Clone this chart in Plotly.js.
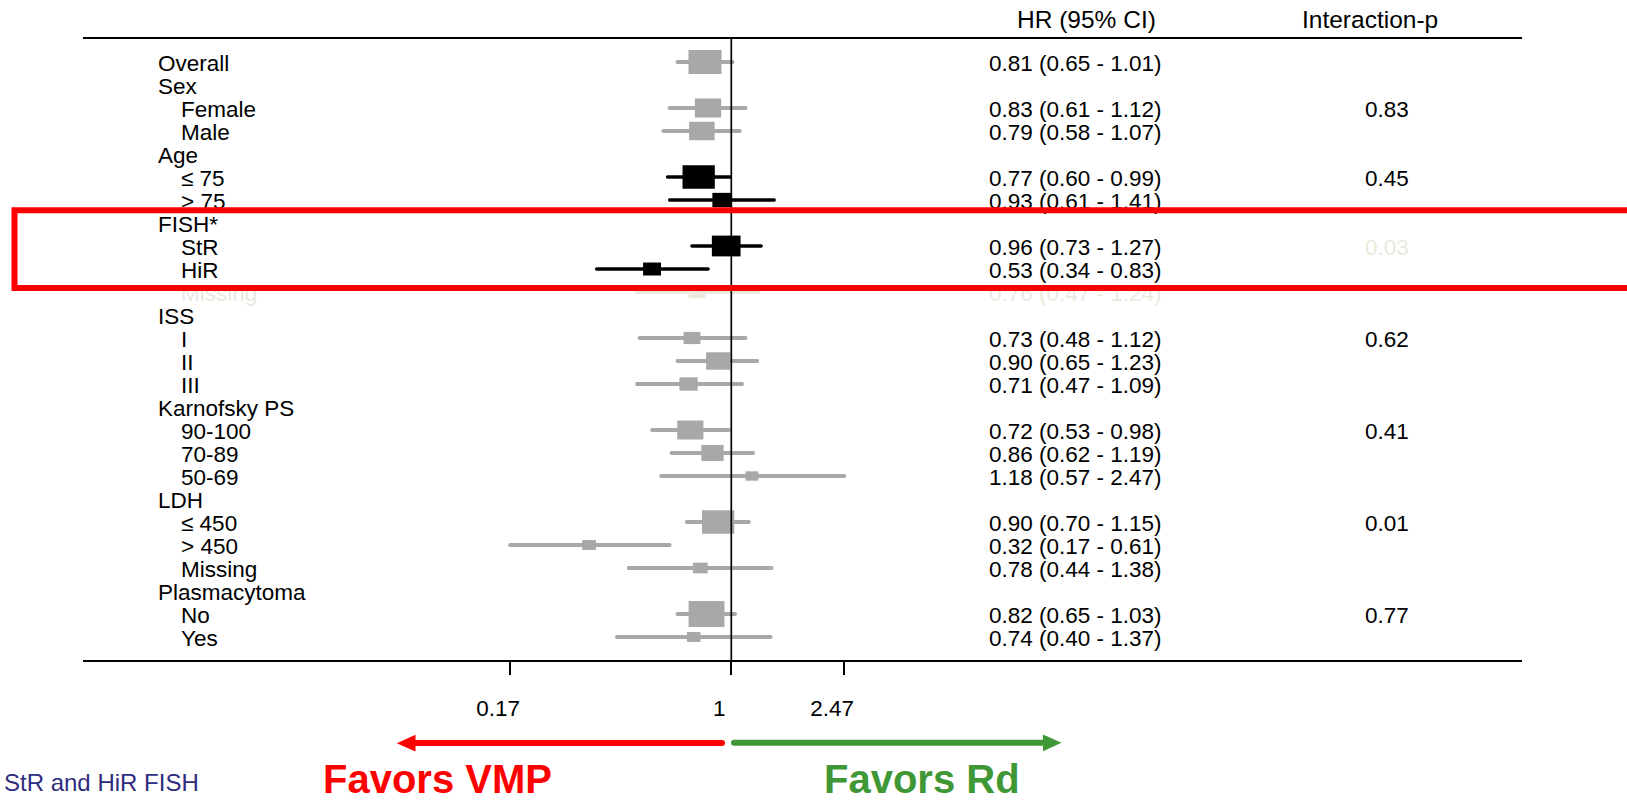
<!DOCTYPE html>
<html>
<head>
<meta charset="utf-8">
<script src="https://cdn.plot.ly/plotly-3.0.1.min.js"></script>
<style>
  html, body { margin: 0; padding: 0; background: #ffffff; }
  #chart { width: 1627px; height: 803px; }
  .js-line, .shapelayer path { stroke-linecap: round; }
</style>
</head>
<body>
<div id="chart"></div>
<script>
// ---------------- DATA ----------------
const rowLabels = ["Overall","Sex","Female","Male","Age","≤ 75","> 75","FISH*","StR","HiR","Missing",
  "ISS","I","II","III","Karnofsky PS","90-100","70-89","50-69","LDH","≤ 450","> 450","Missing",
  "Plasmacytoma","No","Yes"];
const rowLevel = [0,0,1,1,0,1,1,0,1,1,1,0,1,1,1,0,1,1,1,0,1,1,1,0,1,1];
const hr     = [0.81,null,0.83,0.79,null,0.77,0.93,null,0.96,0.53,0.76,null,0.73,0.90,0.71,null,0.72,0.86,1.18,null,0.90,0.32,0.78,null,0.82,0.74];
const ciLow  = [0.65,null,0.61,0.58,null,0.60,0.61,null,0.73,0.34,0.47,null,0.48,0.65,0.47,null,0.53,0.62,0.57,null,0.70,0.17,0.44,null,0.65,0.40];
const ciHigh = [1.01,null,1.12,1.07,null,0.99,1.41,null,1.27,0.83,1.24,null,1.12,1.23,1.09,null,0.98,1.19,2.47,null,1.15,0.61,1.38,null,1.03,1.37];
const pInteraction = [null,null,"0.83",null,null,"0.45",null,null,"0.03",null,null,null,"0.62",null,null,null,"0.41",null,null,null,"0.01",null,null,null,"0.77",null];
// relative subgroup weight (largest = 100)
const weights = [92,null,73,71,null,90,55,null,80,50,46,null,47,67,51,null,73,62,36,null,90,38,41,null,100,38];
// emphasis group of each row (marks and texts): base / bold / faded
const emphasis = ["base","base","base","base","base","bold","bold","base","bold","bold","faded",
  "base","base","base","base","base","base","base","base","base","base","base","base","base","base","base"];
// emphasis of the interaction-p column
const pEmphasis = ["base","base","base","base","base","base","base","base","faded","base","base",
  "base","base","base","base","base","base","base","base","base","base","base","base","base","base","base"];
const tickValues = [0.17, 1, 2.47];
const tickLabels = ["0.17", "1", "2.47"];
const headerHR = "HR (95% CI)";
const headerP = "Interaction-p";
const footnote = "StR and HiR FISH";
const favorLeft = "Favors VMP";
const favorRight = "Favors Rd";

// ---------------- STYLE / GEOMETRY ----------------
const W = 1627, H = 803;
const M = {l: 83, r: 105, t: 39, b: 143};
const plotW = W - M.l - M.r, plotH = H - M.t - M.b;
const XR = [-2.2557, 2.7512];          // log10 range
const YR = [26, -1];                   // reversed row range
const pxPerLn = plotW / ((XR[1] - XR[0]) * Math.LN10);
const rowPx = plotH / Math.abs(YR[0] - YR[1]);
const TEXT_DY = 3 / rowPx;             // small downward nudge of row texts
const BOX_MAX_H = 26, BOX_ASPECT = 1.38;
const colorMark = {base: "#a8a8a8", bold: "#000000", faded: "#ece9df"};
const colorText = {base: "#000000", bold: "#000000", faded: "#ece9df"};
const FONT = "Liberation Sans, Arial, Helvetica, sans-serif";
const px2paperX = p => (p - M.l) / plotW;
const px2paperY = p => (M.t + plotH - p) / plotH;

// ---------------- TRACES ----------------
const traces = [];
// boxes (bars with base on the log axis)
const bx = [], bbase = [], by = [], bw = [], bc = [];
hr.forEach((v, i) => {
  if (v == null) return;
  const hpx = weights[i] / 100 * BOX_MAX_H;
  const half = hpx * BOX_ASPECT / 2 / pxPerLn;
  const x0 = v * Math.exp(-half), x1 = v * Math.exp(half);
  bbase.push(x0); bx.push(x1 - x0); by.push(i); bw.push(hpx / rowPx); bc.push(colorMark[emphasis[i]]);
});
traces.push({type: "bar", orientation: "h", x: bx, base: bbase, y: by, width: bw,
  marker: {color: bc, line: {width: 0}}, hoverinfo: "skip", showlegend: false});

// CI lines grouped by emphasis
["base","bold","faded"].forEach(g => {
  const xs = [], ys = [];
  hr.forEach((v, i) => {
    if (v == null || emphasis[i] !== g) return;
    xs.push(ciLow[i], ciHigh[i], null); ys.push(i, i, null);
  });
  traces.push({type: "scatter", mode: "lines", x: xs, y: ys,
    line: {color: colorMark[g], width: g === "bold" ? 3.5 : 4},
    hoverinfo: "skip", showlegend: false, connectgaps: false});
});

// row labels
traces.push({type: "scatter", mode: "text", xaxis: "x2", yaxis: "y",
  x: rowLevel.map(l => l ? 181 : 158), y: rowLabels.map((_, i) => i + TEXT_DY),
  text: rowLabels, textposition: "middle right",
  textfont: {family: FONT, size: 22.5, color: rowLabels.map((_, i) => colorText[emphasis[i]])},
  cliponaxis: false, hoverinfo: "skip", showlegend: false});

// HR (95% CI) text
const hrIdx = hr.map((v, i) => v == null ? -1 : i).filter(i => i >= 0);
traces.push({type: "scatter", mode: "text", xaxis: "x2", yaxis: "y",
  x: hrIdx.map(() => 989), y: hrIdx.map(i => i + TEXT_DY),
  text: hrIdx.map(i => hr[i].toFixed(2) + " (" + ciLow[i].toFixed(2) + " - " + ciHigh[i].toFixed(2) + ")"),
  textposition: "middle right",
  textfont: {family: FONT, size: 22.5, color: hrIdx.map(i => colorText[emphasis[i]])},
  cliponaxis: false, hoverinfo: "skip", showlegend: false});

// interaction p
const pIdx = pInteraction.map((v, i) => v == null ? -1 : i).filter(i => i >= 0);
traces.push({type: "scatter", mode: "text", xaxis: "x2", yaxis: "y",
  x: pIdx.map(() => 1387), y: pIdx.map(i => i + TEXT_DY), text: pIdx.map(i => pInteraction[i]),
  textposition: "middle center",
  textfont: {family: FONT, size: 22.5, color: pIdx.map(i => colorText[pEmphasis[i]])},
  cliponaxis: false, hoverinfo: "skip", showlegend: false});

// ---------------- LAYOUT ----------------
const shapes = [
  // reference line at HR = 1
  {type: "line", xref: "x", yref: "paper", x0: 1, x1: 1, y0: 0, y1: 1,
   line: {color: "#000", width: 1.7}, layer: "above"},
  // red highlight box
  {type: "rect", xref: "paper", yref: "paper",
   x0: px2paperX(14.5), x1: px2paperX(1700), y0: px2paperY(288), y1: px2paperY(210.3),
   line: {color: "#ff0000", width: 6}, fillcolor: "rgba(0,0,0,0)", layer: "above"},
  // red arrow
  {type: "line", xref: "paper", yref: "paper", x0: px2paperX(722), x1: px2paperX(412),
   y0: px2paperY(743), y1: px2paperY(743), line: {color: "#ff0000", width: 6}, layer: "above"},
  {type: "path", xref: "paper", yref: "paper",
   path: `M ${px2paperX(396.7)},${px2paperY(743.2)} L ${px2paperX(415.5)},${px2paperY(734.8)} L ${px2paperX(415.5)},${px2paperY(751.6)} Z`,
   fillcolor: "#ff0000", line: {color: "#ff0000", width: 0}, layer: "above"},
  // green arrow
  {type: "line", xref: "paper", yref: "paper", x0: px2paperX(734), x1: px2paperX(1046),
   y0: px2paperY(742.8), y1: px2paperY(742.8), line: {color: "#3f9736", width: 6}, layer: "above"},
  {type: "path", xref: "paper", yref: "paper",
   path: `M ${px2paperX(1061.5)},${px2paperY(742.8)} L ${px2paperX(1043)},${px2paperY(734.4)} L ${px2paperX(1043)},${px2paperY(751.2)} Z`,
   fillcolor: "#3f9736", line: {color: "#3f9736", width: 0}, layer: "above"}
];

const annotations = [
  {text: headerHR, xref: "paper", yref: "paper", x: px2paperX(1086.7), y: px2paperY(19),
   xanchor: "center", yanchor: "middle", showarrow: false, font: {family: FONT, size: 24.5, color: "#000"}},
  {text: headerP, xref: "paper", yref: "paper", x: px2paperX(1370), y: px2paperY(19),
   xanchor: "center", yanchor: "middle", showarrow: false, font: {family: FONT, size: 24.5, color: "#000"}},
  {text: footnote, xref: "paper", yref: "paper", x: px2paperX(2), y: px2paperY(782),
   xanchor: "left", yanchor: "middle", showarrow: false, font: {family: FONT, size: 24, color: "#2e2c7e"}},
  {text: "<b>" + favorLeft + "</b>", xref: "paper", yref: "paper", x: px2paperX(321), y: px2paperY(779),
   xanchor: "left", yanchor: "middle", showarrow: false, font: {family: FONT, size: 40, color: "#ff0000"}},
  {text: "<b>" + favorRight + "</b>", xref: "paper", yref: "paper", x: px2paperX(822), y: px2paperY(779),
   xanchor: "left", yanchor: "middle", showarrow: false, font: {family: FONT, size: 40, color: "#3f9736"}}
];

const layout = {
  width: W, height: H,
  margin: M,
  paper_bgcolor: "#ffffff", plot_bgcolor: "#ffffff",
  showlegend: false, hovermode: false, barmode: "overlay",
  font: {family: FONT, color: "#000"},
  xaxis: {type: "log", range: XR, showgrid: false, zeroline: false,
    showline: true, mirror: true, linecolor: "#000", linewidth: 2,
    tickmode: "array", tickvals: tickValues, ticktext: tickLabels,
    ticks: "outside", ticklen: 13, tickwidth: 1.7, tickcolor: "#000",
    ticklabelstandoff: 14, ticklabelshift: -12,
    tickfont: {family: FONT, size: 22.5, color: "#000"}, automargin: false, fixedrange: true},
  xaxis2: {overlaying: "x", range: [M.l, W - M.r], visible: false, anchor: "y", fixedrange: true},
  yaxis: {range: YR, visible: false, showgrid: false, zeroline: false, fixedrange: true},
  shapes: shapes,
  annotations: annotations
};

Plotly.newPlot("chart", traces, layout, {displayModeBar: false, staticPlot: true});
</script>
</body>
</html>
